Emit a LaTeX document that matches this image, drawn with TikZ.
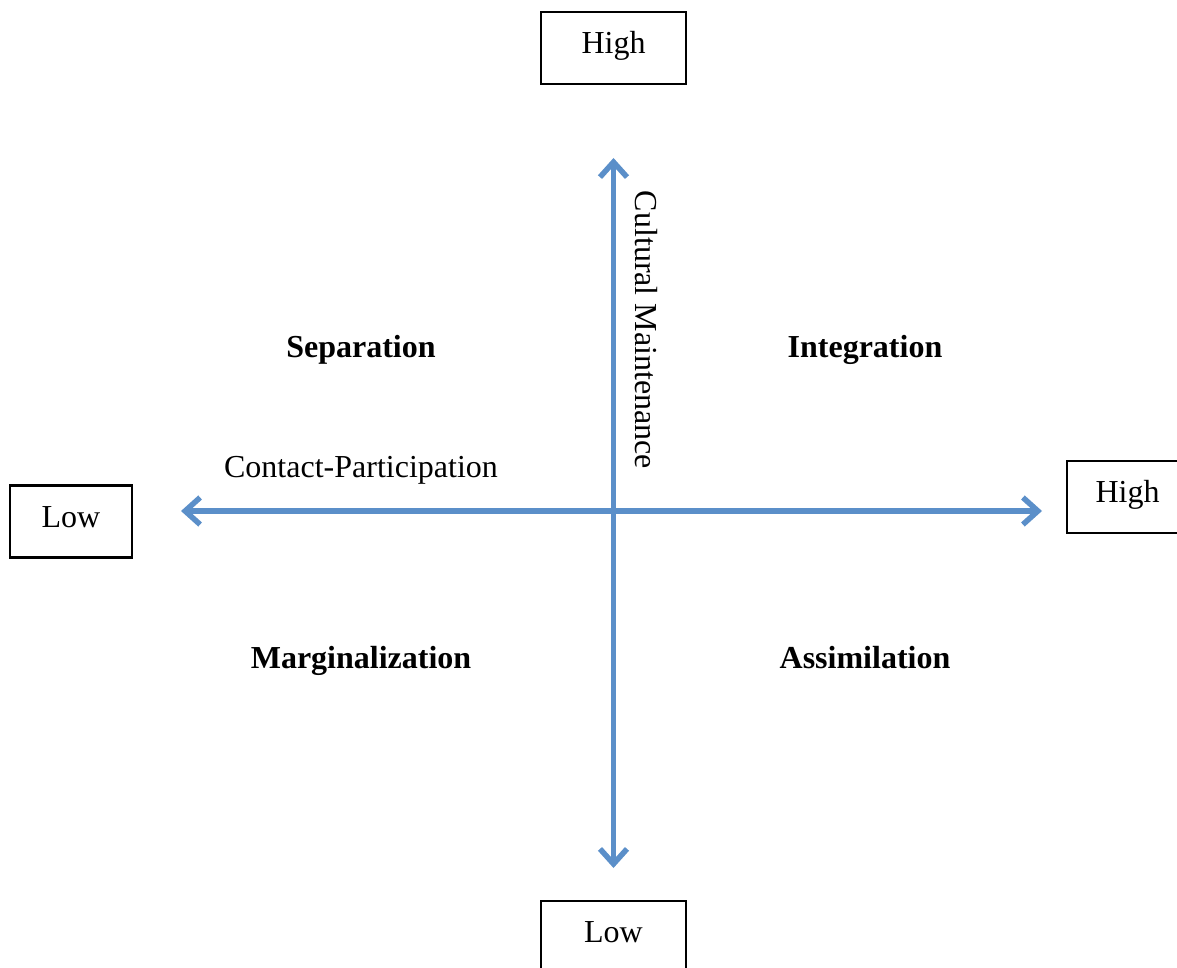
\documentclass[tikz,border=0pt]{standalone}
\usepackage{fontspec}
\setmainfont{Liberation Serif}
\usetikzlibrary{arrows.meta}
\definecolor{axisblue}{HTML}{5B8FC9}
\begin{document}
\begin{tikzpicture}[x=1pt,y=-1pt,
  endbox/.style={draw=black,line width=2.2pt,minimum width=#1,minimum height=72pt,inner sep=0pt,text height=21pt,text depth=10pt,font=\fontsize{32}{36}\selectfont},
  axis/.style={draw=axisblue,line width=5.5pt,{Straight Barb[length=15pt,width=27pt,line width=5.5pt]}-{Straight Barb[length=15pt,width=27pt,line width=5.5pt]}},
  quad/.style={anchor=base,font=\bfseries\fontsize{32}{36}\selectfont},
  lab/.style={font=\fontsize{32}{36}\selectfont}]
\useasboundingbox (0,0) rectangle (1177,968);
\node[endbox=145pt] (top) at (613.5,48) {High};
\node[endbox=145pt,anchor=north] (bot) at (613.5,900) {Low};
\node[endbox=122pt] (left) at (71,521.5) {Low};
\node[endbox=121pt,anchor=west] (right) at (1066,497) {High};
\coordinate (vt) at (613.5,158);
\coordinate (vb) at (613.5,868);
\coordinate (hl) at (181,511);
\coordinate (hr) at (1042,511);
\draw[axis] (vb) -- (vt);
\draw[axis] (hl) -- (hr);
\node[quad] (sep) at (361,357) {Separation};
\node[quad] (int) at (865,357) {Integration};
\node[quad] (mar) at (361,668) {Marginalization};
\node[quad] (ass) at (865,668) {Assimilation};
\node[lab,anchor=base] (cp) at (361,477) {Contact-Participation};
\node[lab,rotate=-90] (cm) at (646,330) {Cultural Maintenance};
\end{tikzpicture}
\end{document}
